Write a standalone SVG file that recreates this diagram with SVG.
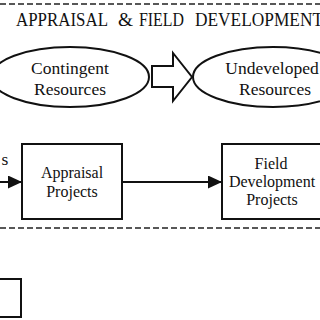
<svg xmlns="http://www.w3.org/2000/svg" width="320" height="320" viewBox="0 0 320 320" font-family="'Liberation Serif', 'DejaVu Serif', serif">
<style>
text{font-family:'Liberation Serif','DejaVu Serif',serif;fill:#111;}
.lbl{font-size:17.5px;text-anchor:middle;}
.box{font-size:16px;text-anchor:middle;}
.shape{fill:#fff;stroke:#111;stroke-width:2;}
.dash{stroke:#222;stroke-width:1.5;stroke-dasharray:6 3;fill:none;}
.conn{stroke:#111;stroke-width:2;fill:none;}
</style>
<defs>
<marker id="ah" viewBox="0 0 14 13" refX="14" refY="6.5" markerWidth="14" markerHeight="13" markerUnits="userSpaceOnUse" orient="auto">
<path d="M0,0 L14,6.5 L0,13 Z" fill="#111"/>
</marker>
</defs>
<rect width="320" height="320" fill="#fff"/>
<line class="dash" x1="0" y1="4" x2="320" y2="4"/>
<line class="dash" x1="0" y1="228" x2="320" y2="228"/>
<text font-size="19" y="26"><tspan x="16" textLength="92" lengthAdjust="spacingAndGlyphs">APPRAISAL</tspan><tspan x="118" textLength="15" lengthAdjust="spacingAndGlyphs">&amp;</tspan><tspan x="139" textLength="45" lengthAdjust="spacingAndGlyphs">FIELD</tspan><tspan x="195" textLength="128" lengthAdjust="spacingAndGlyphs">DEVELOPMENT</tspan></text>
<g id="contingent">
<ellipse class="shape" cx="70" cy="77" rx="79" ry="30"/>
<text class="lbl" x="70" y="74">Contingent</text>
<text class="lbl" x="70" y="95">Resources</text>
</g>
<g id="big-arrow">
<path class="shape" d="M152,66 L173,66 L173,53 L192,77 L173,101 L173,87 L152,87 Z"/>
</g>
<g id="undeveloped">
<ellipse class="shape" cx="273" cy="77" rx="80" ry="30"/>
<text class="lbl" x="272" y="74">Undeveloped</text>
<text class="lbl" x="275" y="95">Resources</text>
</g>
<g id="left-label">
<text class="lbl" x="5" y="165">s</text>
</g>
<g id="appraisal">
<rect class="shape" x="22" y="144" width="100" height="75"/>
<text class="box" x="72" y="178">Appraisal</text>
<text class="box" x="72" y="197">Projects</text>
</g>
<g id="field-dev">
<rect class="shape" x="222" y="144" width="100" height="75"/>
<text class="box" x="271" y="169">Field</text>
<text class="box" x="272" y="187">Development</text>
<text class="box" x="272" y="205">Projects</text>
</g>
<g id="bottom-box">
<rect class="shape" x="-10" y="279" width="31" height="38"/>
</g>
<g id="connectors">
<line class="conn" x1="-5" y1="182" x2="22" y2="182" marker-end="url(#ah)"/>
<line class="conn" x1="122" y1="182" x2="222" y2="182" marker-end="url(#ah)"/>
</g>
</svg>
